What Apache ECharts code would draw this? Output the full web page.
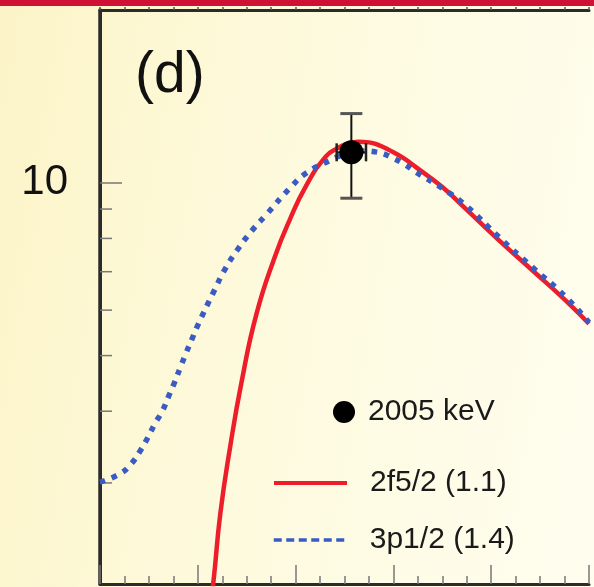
<!DOCTYPE html>
<html>
<head>
<meta charset="utf-8">
<script src="https://cdn.jsdelivr.net/npm/echarts@6/dist/echarts.min.js"></script>
<style>
html,body{margin:0;padding:0;}
#chart{width:594px;height:587px;background:linear-gradient(100deg,#fcf4c8 0%,#fdf8d6 30%,#fefbe3 60%,#fffdee 100%);}
</style>
</head>
<body>
<div id="chart"></div>
<script>
// ---- data (x: angle-like axis 0..50, y: log scale 2..20) ----
const panelLabel = '(d)';
const pointName = '2005 keV';
const redName = '2f5/2 (1.1)';
const blueName = '3p1/2 (1.4)';

const pointX = [25.7];
const pointY = [11.3];
const pointXErr = [1.5];
const pointYLo = [9.4];
const pointYHi = [13.2];

const redX = [11.2, 11.6, 12.3, 13.3, 14.5, 16.0, 17.9, 19.4, 21.1, 23.1, 24.2, 25.3, 26.4, 27.5, 28.5, 29.6, 31.0, 32.3, 35.0, 37.4, 40.8, 44.2, 47.6, 50.0];
const redY = [1.8, 2.02, 2.65, 3.46, 4.52, 5.91, 7.45, 8.62, 9.90, 11.12, 11.47, 11.70, 11.79, 11.76, 11.63, 11.40, 11.05, 10.65, 9.83, 9.01, 7.94, 7.04, 6.24, 5.68];

const blueX = [0, 2.0, 3.2, 4.1, 4.9, 5.6, 6.4, 7.0, 7.6, 8.2, 8.8, 9.4, 9.9, 11.7, 12.8, 14.0, 15.5, 17.0, 19.4, 21.1, 23.5, 24.5, 25.5, 26.4, 27.2, 28.2, 29.0, 29.9, 31.1, 32.3, 35.0, 37.4, 40.8, 44.2, 47.6, 50.0];
const blueY = [3.01, 3.11, 3.24, 3.41, 3.60, 3.80, 4.01, 4.24, 4.48, 4.76, 5.05, 5.34, 5.60, 6.50, 7.08, 7.62, 8.24, 8.80, 9.78, 10.40, 10.94, 11.14, 11.28, 11.34, 11.36, 11.32, 11.23, 11.05, 10.78, 10.44, 9.78, 9.13, 8.04, 7.13, 6.33, 5.71];

const xMin = 0, xMax = 50, xInterval = 10;
const yMin = 2, yMax = 20;
const yLabelValues = [10];
const yMinorTicks = [3, 4, 5, 6, 7, 8, 9];

// ---- build ----
const zip = (a, b) => a.map((v, i) => [v, b[i]]);
const FONT = '"Liberation Sans", Arial, Helvetica, sans-serif';

const chart = echarts.init(document.getElementById('chart'), null, {renderer: 'canvas'});

const xAxisCommon = {
  type: 'value', min: xMin, max: xMax, interval: xInterval,
  splitLine: {show: false}, axisLabel: {show: false}
};

const option = {
  backgroundColor: 'transparent',
  animation: false,
  title: {
    text: panelLabel, left: 135, top: 48, padding: 0,
    textStyle: {fontFamily: FONT, fontSize: 57, fontWeight: 'normal', color: '#111'}
  },
  grid: {left: 100, right: 5, top: 10, bottom: 3, show: false},
  xAxis: [
    Object.assign({}, xAxisCommon, {
      position: 'bottom',
      axisLine: {lineStyle: {color: '#2b2b2b', width: 3}},
      axisTick: {inside: true, length: 19, lineStyle: {color: '#777', width: 1.5}},
      minorTick: {show: true, splitNumber: 4, length: 8, lineStyle: {color: '#777', width: 1.5}}
    }),
    Object.assign({}, xAxisCommon, {
      position: 'top',
      axisLine: {lineStyle: {color: '#2b2b2b', width: 3}},
      axisTick: {inside: false, length: 3, lineStyle: {color: '#555', width: 1.5}},
      minorTick: {show: true, splitNumber: 4, length: 3, lineStyle: {color: '#555', width: 1.5}}
    })
  ],
  yAxis: [
    {
      type: 'log', logBase: 10, min: yMin, max: yMax, position: 'left',
      splitLine: {show: false},
      axisLine: {lineStyle: {color: '#2b2b2b', width: 3.5}},
      axisTick: {inside: true, length: 22, lineStyle: {color: '#777', width: 1.5}},
      axisLabel: {
        margin: 32, fontSize: 42, fontFamily: FONT, color: '#111',
        showMinLabel: false, showMaxLabel: false,
        formatter: v => (yLabelValues.indexOf(Math.round(v)) >= 0 ? String(Math.round(v)) : '')
      }
    },
    {
      type: 'log', logBase: 10, min: yMin, max: yMax, position: 'right',
      splitLine: {show: false},
      axisLine: {lineStyle: {color: '#2b2b2b', width: 3}},
      axisTick: {show: false}, axisLabel: {show: false}
    }
  ],
  legend: [
    {
      data: [pointName], left: 333, top: 397, padding: 0, selectedMode: false,
      itemWidth: 22, itemHeight: 22, icon: 'circle',
      itemStyle: {color: '#000', opacity: 1},
      textStyle: {fontFamily: FONT, fontSize: 30, color: '#1a1a1a', lineHeight: 30, padding: [0, 0, 0, 8]}
    },
    {
      data: [redName], left: 272, top: 468, padding: 0, selectedMode: false,
      itemWidth: 73, itemHeight: 30,
      itemStyle: {opacity: 0},
      lineStyle: {width: 4},
      textStyle: {fontFamily: FONT, fontSize: 30, color: '#1a1a1a', lineHeight: 30, padding: [0, 0, 0, 18]}
    },
    {
      data: [blueName], left: 272, top: 525, padding: 0, selectedMode: false,
      itemWidth: 73, itemHeight: 30,
      itemStyle: {opacity: 0},
      lineStyle: {width: 3.5, type: [8, 4.5]},
      textStyle: {fontFamily: FONT, fontSize: 30, color: '#1a1a1a', lineHeight: 30, padding: [0, 0, 0, 18]}
    }
  ],
  series: [
    {
      name: 'yMinorTicks', type: 'custom', silent: true, clip: false,
      data: yMinorTicks.map(v => [xMin, v]),
      renderItem: (params, api) => {
        const p = api.coord([api.value(0), api.value(1)]);
        return {type: 'line', shape: {x1: p[0], y1: p[1], x2: p[0] + 12, y2: p[1]},
          style: {stroke: '#777', lineWidth: 1.5}};
      },
      z: 1
    },
    {
      name: redName, type: 'line', data: zip(redX, redY), smooth: 0.5,
      symbol: 'none', showSymbol: false,
      lineStyle: {color: '#ee1d2a', width: 4.5}, itemStyle: {color: '#ee1d2a'}, z: 2
    },
    {
      name: blueName, type: 'line', data: zip(blueX, blueY), smooth: 0.5,
      symbol: 'none', showSymbol: false,
      lineStyle: {color: '#3a5bc2', width: 5.5, type: [5.5, 7]}, itemStyle: {color: '#3a5bc2'}, z: 3
    },
    {
      name: 'errorbars', type: 'custom', silent: true,
      data: pointX.map((x, i) => [x, pointY[i], x - pointXErr[i], x + pointXErr[i], pointYLo[i], pointYHi[i]]),
      renderItem: (params, api) => {
        const c = api.coord([api.value(0), api.value(1)]);
        const top = api.coord([api.value(0), api.value(5)]);
        const bot = api.coord([api.value(0), api.value(4)]);
        const l = api.coord([api.value(2), api.value(1)]);
        const r = api.coord([api.value(3), api.value(1)]);
        const capW = 11, capH = 9;
        const ln = (x1, y1, x2, y2, w, col) => ({type: 'line', shape: {x1, y1, x2, y2}, style: {stroke: col, lineWidth: w}});
        return {type: 'group', children: [
          ln(c[0], top[1], c[0], bot[1], 2, '#111'),
          ln(c[0] - capW, top[1], c[0] + capW, top[1], 3, '#555'),
          ln(c[0] - capW, bot[1], c[0] + capW, bot[1], 3, '#555'),
          ln(l[0], c[1], r[0], c[1], 2, '#111'),
          ln(l[0], c[1] - capH, l[0], c[1] + capH, 2.5, '#222'),
          ln(r[0], c[1] - capH, r[0], c[1] + capH, 2.5, '#222')
        ]};
      },
      z: 4
    },
    {
      name: pointName, type: 'scatter', data: zip(pointX, pointY),
      symbol: 'circle', symbolSize: 24, itemStyle: {color: '#000', opacity: 1}, z: 5
    }
  ],
  graphic: [
    {type: 'rect', left: 0, top: 0, shape: {width: 594, height: 6}, style: {fill: '#cf1136'}, z: 100}
  ]
};

chart.setOption(option);
</script>
</body>
</html>
